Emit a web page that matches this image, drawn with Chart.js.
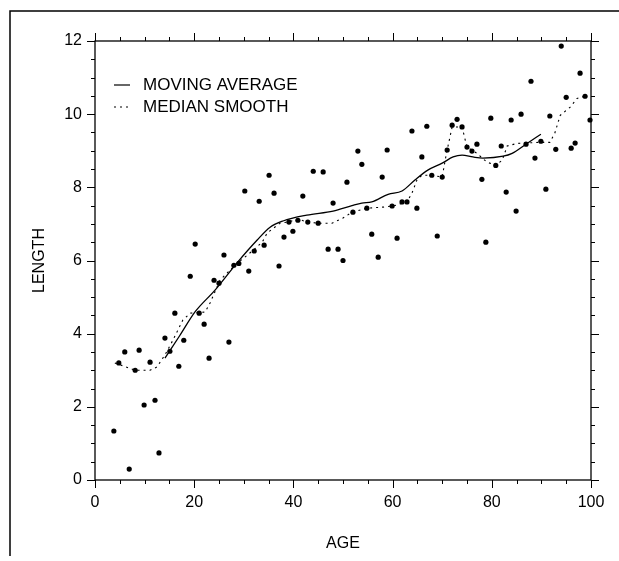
<!DOCTYPE html>
<html>
<head>
<meta charset="utf-8">
<script src="https://cdn.jsdelivr.net/npm/chart.js@4/dist/chart.umd.min.js"></script>
<style>
  html, body { margin: 0; padding: 0; background: #fff; }
  canvas { display: block; }
</style>
</head>
<body>
<canvas id="chart" width="619" height="561"></canvas>
<script>
// Observed data (age, length)
const ages = [3.8, 4.8, 6.0, 6.9, 8.1, 8.9, 9.9, 11.1, 12.1, 12.9, 14.1, 15.1, 16.1, 16.9, 17.9, 19.2, 20.2, 21.0, 22.0, 23.0,
  24.0, 25.0, 26.0, 27.0, 28.0, 29.0, 30.2, 31.0, 32.1, 33.1, 34.1, 35.1, 36.1, 37.1, 38.1, 39.1, 39.9, 40.9, 41.9, 42.9,
  44.0, 45.0, 46.0, 47.0, 48.0, 49.0, 50.0, 50.8, 52.0, 53.0, 53.8, 54.8, 55.8, 57.1, 57.9, 58.9, 59.9, 60.9, 61.9, 62.9,
  63.9, 64.9, 65.9, 66.9, 67.9, 69.0, 70.0, 71.0, 72.0, 73.0, 74.0, 75.0, 76.0, 77.0, 78.0, 78.8, 79.8, 80.8, 81.9, 82.9,
  83.9, 84.9, 85.9, 86.9, 87.9, 88.7, 89.9, 90.9, 91.7, 92.9, 94.0, 95.0, 96.0, 96.8, 97.8, 98.8, 99.8];
const lengths = [1.34, 3.2, 3.5, 0.3, 3.0, 3.55, 2.05, 3.22, 2.18, 0.74, 3.88, 3.52, 4.56, 3.11, 3.82, 5.57, 6.45, 4.56, 4.26, 3.33,
  5.46, 5.38, 6.15, 3.77, 5.87, 5.92, 7.9, 5.71, 6.26, 7.62, 6.42, 8.33, 7.84, 5.85, 6.64, 7.05, 6.8, 7.1, 7.76, 7.05,
  8.44, 7.02, 8.42, 6.31, 7.57, 6.31, 6.0, 8.14, 7.32, 8.99, 8.63, 7.43, 6.72, 6.09, 8.28, 9.02, 7.49, 6.61, 7.6, 7.6,
  9.54, 7.43, 8.83, 9.67, 8.33, 6.67, 8.28, 9.02, 9.7, 9.86, 9.65, 9.1, 8.99, 9.18, 8.22, 6.5, 9.89, 8.6, 9.13, 7.87,
  9.84, 7.35, 10.0, 9.18, 10.9, 8.8, 9.26, 7.95, 9.95, 9.04, 11.86, 10.46, 9.07, 9.21, 11.12, 10.49, 9.84];

// Moving average curve
const maAges = [14.1, 17.1, 20.2, 24.2, 28.6, 32.7, 35.3, 37.9, 42.7, 48.0, 51.8, 53.8, 55.8, 59.1, 61.9, 64.5, 67.1, 70.0,
  72.2, 74.0, 76.2, 78.2, 82.3, 84.1, 87.1, 89.9];
const maValues = [3.33, 3.95, 4.6, 5.19, 5.93, 6.56, 6.91, 7.08, 7.24, 7.35, 7.5, 7.57, 7.6, 7.81, 7.9, 8.2, 8.47, 8.66,
  8.83, 8.88, 8.83, 8.8, 8.85, 8.93, 9.2, 9.45];

// Median smooth curve
const medAges = [4.0, 8.1, 11.1, 12.5, 14.1, 15.7, 17.7, 19.2, 22.2, 23.2, 25.2, 28.2, 31.9, 33.7, 34.7, 37.3, 38.9, 40.9,
  42.9, 45.0, 47.8, 50.0, 51.8, 54.8, 58.1, 60.1, 62.9, 63.9, 64.9, 65.9, 67.9, 70.0, 70.6, 71.0, 72.0, 74.0, 75.0, 77.0,
  79.0, 80.8, 82.1, 83.1, 85.1, 89.7, 91.7, 92.7, 93.8, 95.8, 97.2, 98.8];
const medValues = [3.2, 3.0, 3.0, 3.09, 3.42, 3.82, 4.37, 4.56, 4.59, 4.84, 5.46, 5.87, 6.28, 6.5, 6.75, 7.02, 7.05, 7.13,
  7.05, 7.02, 7.02, 7.16, 7.32, 7.43, 7.46, 7.49, 7.6, 7.84, 8.2, 8.33, 8.33, 8.28, 8.74, 9.02, 9.65, 9.65, 9.1, 8.93,
  8.69, 8.6, 8.74, 9.13, 9.2, 9.23, 9.23, 9.48, 9.97, 10.19, 10.43, 10.49];

const xTicks = [0, 20, 40, 60, 80, 100];
const yTicks = [0, 2, 4, 6, 8, 10, 12];
const legendLabels = ['MOVING AVERAGE', 'MEDIAN SMOOTH'];

const FONT = '"Liberation Sans", Arial, Helvetica, sans-serif';

const toXY = (xs, ys) => xs.map((x, i) => ({ x: x, y: ys[i] }));

// Frame, axis box, ticks and legend
const decorPlugin = {
  id: 'decor',
  afterDraw(chart) {
    const ctx = chart.ctx;
    const a = chart.chartArea;
    const xs = chart.scales.x;
    const ys = chart.scales.y;
    ctx.save();
    ctx.strokeStyle = '#000';

    // outer frame (left and top only)
    ctx.lineWidth = 1.5;
    ctx.beginPath();
    ctx.moveTo(10, 556);
    ctx.lineTo(10, 11);
    ctx.lineTo(619, 11);
    ctx.stroke();

    // axis box
    ctx.lineWidth = 1.3;
    ctx.strokeRect(a.left, a.top, a.right - a.left, a.bottom - a.top);

    // x ticks, bottom and top
    ctx.lineWidth = 1;
    ctx.beginPath();
    for (let v = 0; v <= 100; v += 5) {
      const px = Math.round(xs.getPixelForValue(v)) + 0.5;
      const len = v % 20 === 0 ? 8 : 4;
      ctx.moveTo(px, a.bottom); ctx.lineTo(px, a.bottom + len);
      ctx.moveTo(px, a.top); ctx.lineTo(px, a.top - len);
    }
    // y ticks, left and right
    for (let v = 0; v <= 12; v += 0.5) {
      const py = Math.round(ys.getPixelForValue(v)) + 0.5;
      const len = v % 2 === 0 ? 8 : 4;
      ctx.moveTo(a.left, py); ctx.lineTo(a.left - len, py);
      ctx.moveTo(a.right, py); ctx.lineTo(a.right + len, py);
    }
    ctx.stroke();

    // legend
    ctx.font = '17px ' + FONT;
    ctx.fillStyle = '#000';
    ctx.textBaseline = 'middle';
    ctx.textAlign = 'left';
    ctx.lineWidth = 1.2;
    ctx.beginPath();
    ctx.moveTo(114, 85); ctx.lineTo(130, 85);
    ctx.stroke();
    ctx.fillText(legendLabels[0], 143, 85);
    ctx.setLineDash([2, 4]);
    ctx.beginPath();
    ctx.moveTo(114, 107); ctx.lineTo(131, 107);
    ctx.stroke();
    ctx.setLineDash([]);
    ctx.fillText(legendLabels[1], 143, 107);
    ctx.restore();
  }
};

const ctx = document.getElementById('chart').getContext('2d');
const chart = new Chart(ctx, {
  type: 'scatter',
  data: {
    datasets: [
      {
        label: 'DATA',
        data: toXY(ages, lengths),
        pointRadius: 2.6,
        pointBackgroundColor: '#000',
        pointBorderWidth: 0,
        showLine: false,
        clip: false
      },
      {
        label: legendLabels[0],
        data: toXY(maAges, maValues),
        showLine: true,
        borderColor: '#000',
        borderWidth: 1.3,
        pointRadius: 0,
        tension: 0.4,
        cubicInterpolationMode: 'monotone',
        clip: false
      },
      {
        label: legendLabels[1],
        data: toXY(medAges, medValues),
        showLine: true,
        borderColor: '#000',
        borderWidth: 1.1,
        borderDash: [2, 4],
        pointRadius: 0,
        tension: 0,
        clip: false
      }
    ]
  },
  options: {
    responsive: false,
    animation: false,
    layout: { padding: { top: 41, right: 28, left: 0, bottom: 0 } },
    plugins: {
      legend: { display: false },
      tooltip: { enabled: false }
    },
    scales: {
      x: {
        type: 'linear',
        min: 0,
        max: 100,
        afterBuildTicks: s => { s.ticks = xTicks.map(v => ({ value: v })); },
        afterFit: s => { s.height = 81; },
        grid: { display: false, drawTicks: false },
        border: { display: false },
        ticks: { color: '#000', font: { family: FONT, size: 16 }, padding: 13, maxRotation: 0 },
        title: { display: true, text: 'AGE', color: '#000', font: { family: FONT, size: 16 }, padding: { top: 8, bottom: 8 } }
      },
      y: {
        type: 'linear',
        min: 0,
        max: 12,
        afterBuildTicks: s => { s.ticks = yTicks.map(v => ({ value: v })); },
        afterFit: s => { s.width = 95; },
        grid: { display: false, drawTicks: false },
        border: { display: false },
        ticks: { color: '#000', font: { family: FONT, size: 16 }, padding: 13 },
        title: { display: true, text: 'LENGTH', color: '#000', font: { family: FONT, size: 16 }, padding: { top: 30, bottom: 0 } }
      }
    }
  },
  plugins: [decorPlugin]
});
</script>
</body>
</html>
